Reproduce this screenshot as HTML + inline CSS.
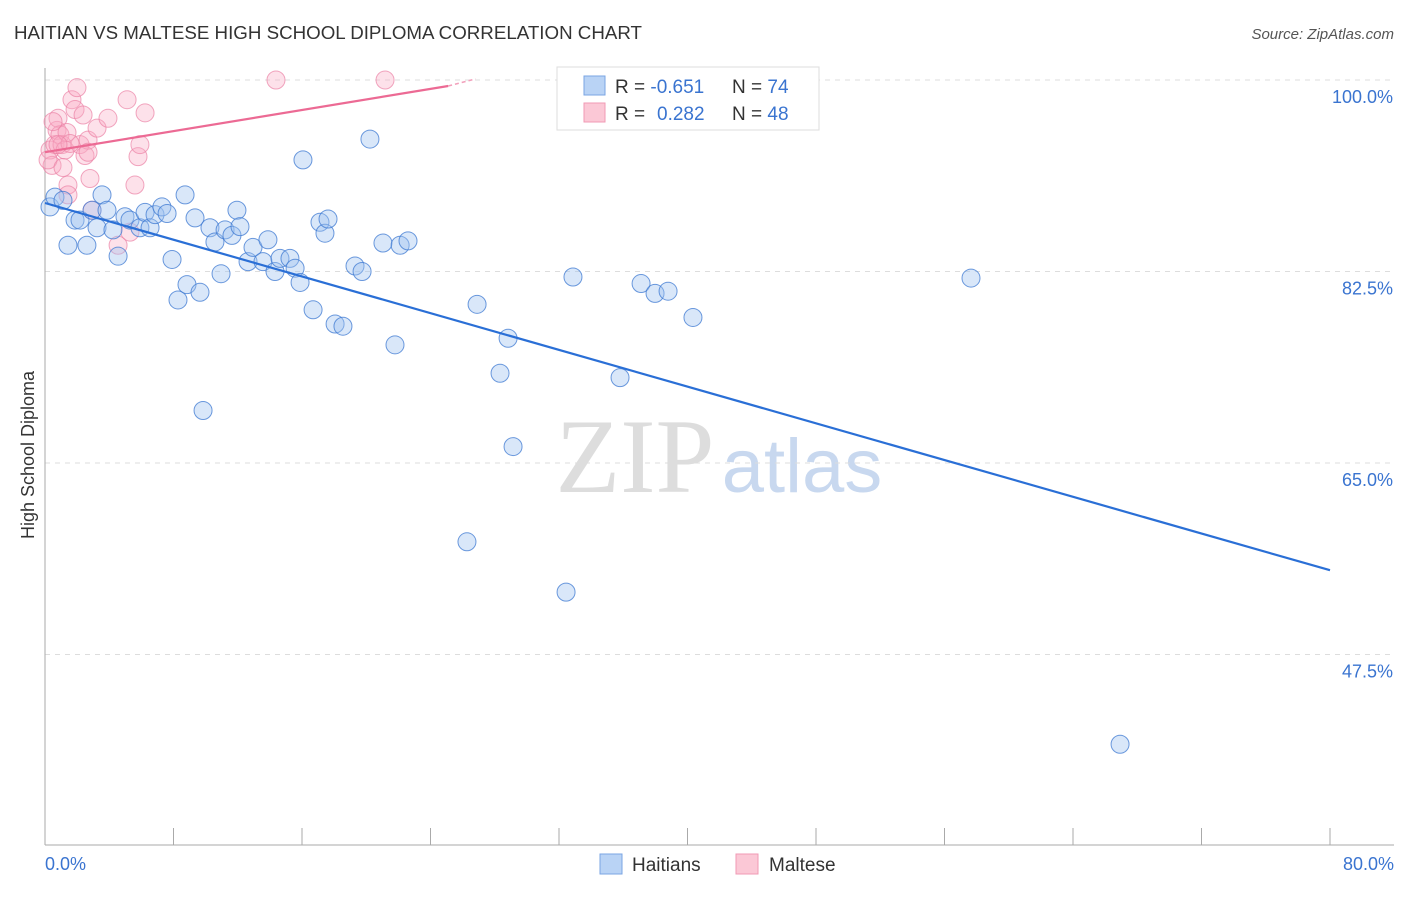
<!DOCTYPE html>
<html><head><meta charset="utf-8"><style>
body{margin:0;background:#fff;font-family:"Liberation Sans",sans-serif}
</style></head><body>
<svg id="chart" width="1406" height="892" xmlns="http://www.w3.org/2000/svg">
<text x="14" y="39" font-size="18" fill="#333" textLength="628" lengthAdjust="spacingAndGlyphs">HAITIAN VS MALTESE HIGH SCHOOL DIPLOMA CORRELATION CHART</text>
<text x="1394" y="39" font-size="15" fill="#555" font-style="italic" text-anchor="end">Source: ZipAtlas.com</text>
<text x="635" y="492" font-size="106" fill="#ddd" font-family="Liberation Serif" text-anchor="middle">ZIP</text>
<text x="802" y="492" font-size="76" fill="#c8d8ef" text-anchor="middle">atlas</text>
<g id="grid"></g>
<g id="axes"></g>
<g id="pts"></g>
<g id="lines"></g>
<text transform="translate(34,455) rotate(-90)" font-size="18" fill="#333" text-anchor="middle">High School Diploma</text>
<text x="45" y="870" font-size="18" fill="#3a74d0">0.0%</text>
<text x="1394" y="870" font-size="18" fill="#3a74d0" text-anchor="end">80.0%</text>
<g>
<rect x="557" y="67" width="262" height="63" fill="#fff" stroke="#ddd"/>
<rect x="584" y="76" width="21" height="19" fill="#b9d3f5" stroke="#7aa5e3"/>
<rect x="584" y="103" width="21" height="19" fill="#fbc8d6" stroke="#f09ab4"/>
<text x="615" y="93" font-size="19" fill="#333">R = <tspan fill="#3a74d0">-0.651</tspan></text>
<text x="732" y="93" font-size="19" fill="#333">N = <tspan fill="#3a74d0">74</tspan></text>
<text x="615" y="120" font-size="19" fill="#333">R = </text>
<text x="657" y="120" font-size="19" fill="#3a74d0">0.282</text>
<text x="732" y="120" font-size="19" fill="#333">N = <tspan fill="#3a74d0">48</tspan></text>
</g>
<g>
<rect x="600" y="854" width="22" height="20" fill="#b9d3f5" stroke="#7aa5e3"/>
<text x="632" y="871" font-size="19" fill="#333">Haitians</text>
<rect x="736" y="854" width="22" height="20" fill="#fbc8d6" stroke="#f09ab4"/>
<text x="769" y="871" font-size="19" fill="#333">Maltese</text>
</g>
</svg>
<script>
const yTicks=[100,82.5,65,47.5];
const yTickLabels=["100.0%","82.5%","65.0%","47.5%"];
const blueX=[0.31,0.62,1.12,1.43,1.87,2.18,2.61,2.93,3.24,3.55,3.86,4.23,4.55,4.98,5.29,5.91,6.23,6.54,6.85,7.28,7.6,7.91,8.28,8.72,8.84,9.34,9.65,9.84,10.27,10.58,10.96,11.21,11.64,11.95,12.14,12.64,12.95,13.57,13.88,14.32,14.63,15.25,15.57,15.88,16.06,16.69,17.12,17.43,17.62,18.06,18.55,19.3,19.74,20.23,21.04,21.79,22.11,22.6,26.27,26.9,28.33,28.83,29.14,32.44,32.87,35.8,37.11,37.98,38.79,40.34,57.65,66.93];
const blueY=[88.4,89.3,89.0,84.9,87.2,87.2,84.9,88.1,86.5,89.5,88.1,86.3,83.9,87.5,87.2,86.5,87.9,86.5,87.7,88.4,87.8,83.6,79.9,89.5,81.3,87.4,80.6,69.8,86.5,85.2,82.3,86.3,85.8,88.1,86.6,83.4,84.7,83.4,85.4,82.5,83.7,83.7,82.8,81.5,92.7,79.0,87.0,86.0,87.3,77.7,77.5,83.0,82.5,94.6,85.1,75.8,84.9,85.3,57.8,79.5,73.2,76.4,66.5,53.2,82.0,72.8,81.4,80.5,80.7,78.3,81.9,39.3];
const pinkX=[0.31,0.44,0.62,0.75,0.81,0.93,1.06,1.25,1.37,1.43,1.68,1.87,1.99,2.18,2.37,2.49,2.68,2.8,2.93,3.24,3.92,4.55,5.11,5.29,5.6,5.79,5.91,6.23,14.38,21.17,0.19,0.5,1.56,2.68,1.12,1.43,0.81];
const pinkY=[93.6,92.2,94.1,95.4,96.5,95.0,94.1,93.6,95.2,90.4,98.2,97.3,99.3,94.1,96.8,93.1,94.5,91.0,88.1,95.6,96.5,84.9,98.2,86.1,90.4,93.0,94.1,97.0,100,100,92.7,96.2,94.2,93.4,92.0,89.5,94.1];
const blueTrend=[88.76,55.2];
const pinkTrend=[93.4,99.45,100.1];
const pinkTrendX=[0,25.1,26.8];
const NS="http://www.w3.org/2000/svg";
const sx=v=>45+v/80*1285;
const sy=v=>80+(100-v)/17.5*191.5;
function mk(tag,attrs,parent){const e=document.createElementNS(NS,tag);for(const k in attrs)e.setAttribute(k,attrs[k]);document.getElementById(parent).appendChild(e);return e;}
yTicks.forEach((t,i)=>{
 const g=mk('line',{x1:45,x2:1394,y1:sy(t),y2:sy(t),stroke:'#ddd','stroke-dasharray':'5,5'},'grid');
 
 
 const l=mk('text',{x:1393,y:sy(t)+23,'font-size':18,fill:'#3a74d0','text-anchor':'end'},'grid');
 l.textContent=yTickLabels[i];
 
 
});
const ax=mk('line',{x1:45,x2:45,y1:68,y2:845,stroke:'#aaa'},'axes');


const bx=mk('line',{x1:45,x2:1394,y1:845,y2:845,stroke:'#aaa'},'axes');


for(let i=0;i<=10;i++){const t=mk('line',{x1:sx(i*8),x2:sx(i*8),y1:828,y2:845,stroke:'#aaa'},'axes');
 
 }
pinkX.forEach((x,i)=>{const c=mk('circle',{cx:sx(x),cy:sy(pinkY[i]),r:9,fill:'rgba(248,170,195,0.35)',stroke:'rgba(235,130,165,0.7)','stroke-width':1},'pts');
 
 });
blueX.forEach((x,i)=>{const c=mk('circle',{cx:sx(x),cy:sy(blueY[i]),r:9,fill:'rgba(160,195,240,0.4)',stroke:'rgba(60,120,210,0.75)','stroke-width':1},'pts');
 
 });
const bl=mk('line',{x1:sx(0),y1:sy(blueTrend[0]),x2:sx(80),y2:sy(blueTrend[1]),stroke:'#2a6fd6','stroke-width':2.2},'lines');


const pl=mk('line',{x1:sx(pinkTrendX[0]),y1:sy(pinkTrend[0]),x2:sx(pinkTrendX[1]),y2:sy(pinkTrend[1]),stroke:'#ec6a94','stroke-width':2.2},'lines');


const pd=mk('line',{x1:sx(pinkTrendX[1]),y1:sy(pinkTrend[1]),x2:sx(pinkTrendX[2]),y2:sy(pinkTrend[2]),stroke:'#f2a0bb','stroke-width':1.5,'stroke-dasharray':'4,3'},'lines');


</script>
</body></html>
